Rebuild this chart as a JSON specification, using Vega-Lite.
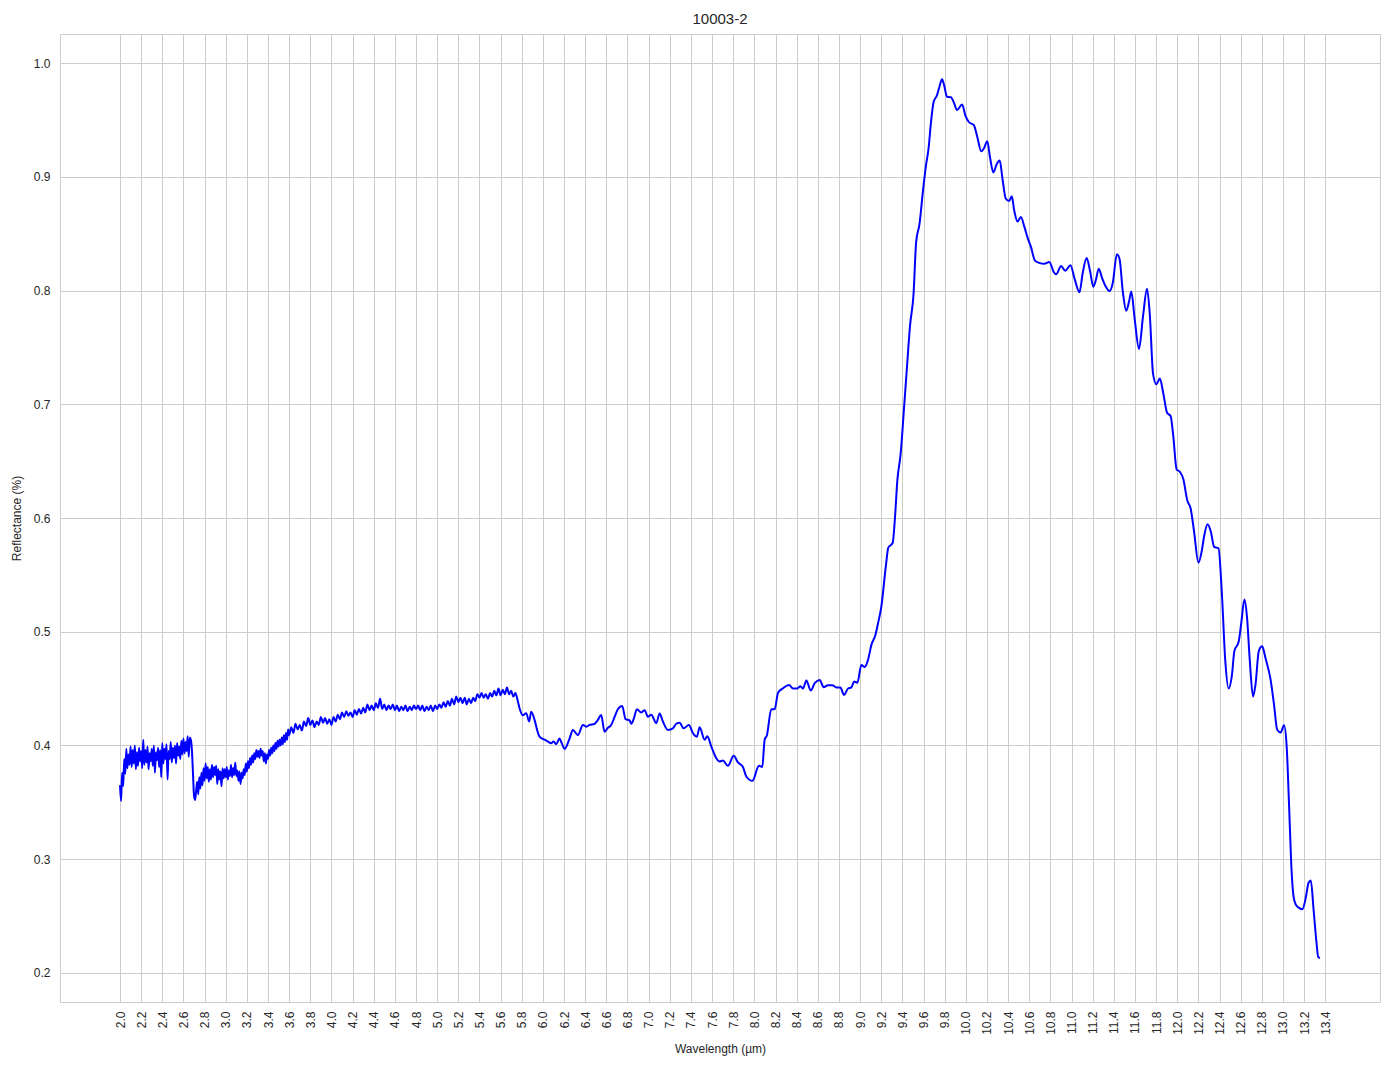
{
"$schema": "https://vega.github.io/schema/vega-lite/v6.json",
"autosize": {"type": "none"},
"padding": {"left": 60, "top": 34, "right": 14, "bottom": 67},
"width": 1320,
"height": 968,
"background": "white",
"title": {"text": "10003-2", "fontSize": 15, "font": "Liberation Sans", "fontWeight": "normal", "color": "#262626", "offset": 7},
"config": {
  "view": {"stroke": "#cccccc", "strokeWidth": 1},
  "axis": {"domain": false, "ticks": false, "gridColor": "#cccccc", "gridWidth": 1, "labelFont": "Liberation Sans", "labelFontSize": 12, "labelColor": "#262626", "titleFont": "Liberation Sans", "titleFontSize": 12, "titleFontWeight": "normal", "titleColor": "#262626"}
},
"data": {"values": [
{"wavelength":2.00,"reflectance":0.365},{"wavelength":2.01,"reflectance":0.351},{"wavelength":2.02,"reflectance":0.376},{"wavelength":2.03,"reflectance":0.364},{"wavelength":2.04,"reflectance":0.388},{"wavelength":2.05,"reflectance":0.375},{"wavelength":2.06,"reflectance":0.397},{"wavelength":2.07,"reflectance":0.380},{"wavelength":2.08,"reflectance":0.392},{"wavelength":2.09,"reflectance":0.383},
{"wavelength":2.10,"reflectance":0.399},{"wavelength":2.11,"reflectance":0.381},{"wavelength":2.12,"reflectance":0.396},{"wavelength":2.13,"reflectance":0.384},{"wavelength":2.14,"reflectance":0.400},{"wavelength":2.15,"reflectance":0.379},{"wavelength":2.16,"reflectance":0.394},{"wavelength":2.17,"reflectance":0.382},{"wavelength":2.18,"reflectance":0.398},{"wavelength":2.19,"reflectance":0.386},
{"wavelength":2.20,"reflectance":0.395},{"wavelength":2.21,"reflectance":0.380},{"wavelength":2.22,"reflectance":0.405},{"wavelength":2.23,"reflectance":0.383},{"wavelength":2.24,"reflectance":0.396},{"wavelength":2.25,"reflectance":0.385},{"wavelength":2.26,"reflectance":0.399},{"wavelength":2.27,"reflectance":0.379},{"wavelength":2.28,"reflectance":0.393},{"wavelength":2.29,"reflectance":0.386},
{"wavelength":2.30,"reflectance":0.397},{"wavelength":2.31,"reflectance":0.382},{"wavelength":2.32,"reflectance":0.400},{"wavelength":2.33,"reflectance":0.376},{"wavelength":2.34,"reflectance":0.394},{"wavelength":2.35,"reflectance":0.387},{"wavelength":2.36,"reflectance":0.398},{"wavelength":2.37,"reflectance":0.381},{"wavelength":2.38,"reflectance":0.396},{"wavelength":2.39,"reflectance":0.372},
{"wavelength":2.40,"reflectance":0.402},{"wavelength":2.41,"reflectance":0.384},{"wavelength":2.42,"reflectance":0.397},{"wavelength":2.43,"reflectance":0.388},{"wavelength":2.44,"reflectance":0.401},{"wavelength":2.45,"reflectance":0.370},{"wavelength":2.46,"reflectance":0.395},{"wavelength":2.47,"reflectance":0.388},{"wavelength":2.48,"reflectance":0.403},{"wavelength":2.49,"reflectance":0.385},
{"wavelength":2.50,"reflectance":0.398},{"wavelength":2.51,"reflectance":0.389},{"wavelength":2.52,"reflectance":0.400},{"wavelength":2.53,"reflectance":0.384},{"wavelength":2.54,"reflectance":0.402},{"wavelength":2.55,"reflectance":0.391},{"wavelength":2.56,"reflectance":0.399},{"wavelength":2.57,"reflectance":0.388},{"wavelength":2.58,"reflectance":0.404},{"wavelength":2.59,"reflectance":0.392},
{"wavelength":2.60,"reflectance":0.406},{"wavelength":2.61,"reflectance":0.393},{"wavelength":2.62,"reflectance":0.403},{"wavelength":2.63,"reflectance":0.395},{"wavelength":2.64,"reflectance":0.408},{"wavelength":2.65,"reflectance":0.390},{"wavelength":2.66,"reflectance":0.407},{"wavelength":2.67,"reflectance":0.405},{"wavelength":2.68,"reflectance":0.396},{"wavelength":2.69,"reflectance":0.376},
{"wavelength":2.70,"reflectance":0.356},{"wavelength":2.71,"reflectance":0.352},{"wavelength":2.72,"reflectance":0.360},{"wavelength":2.73,"reflectance":0.368},{"wavelength":2.74,"reflectance":0.357},{"wavelength":2.75,"reflectance":0.372},{"wavelength":2.76,"reflectance":0.362},{"wavelength":2.77,"reflectance":0.376},{"wavelength":2.78,"reflectance":0.365},{"wavelength":2.79,"reflectance":0.380},
{"wavelength":2.80,"reflectance":0.369},{"wavelength":2.81,"reflectance":0.384},{"wavelength":2.82,"reflectance":0.371},{"wavelength":2.83,"reflectance":0.381},{"wavelength":2.84,"reflectance":0.368},{"wavelength":2.85,"reflectance":0.379},{"wavelength":2.86,"reflectance":0.370},{"wavelength":2.87,"reflectance":0.383},{"wavelength":2.88,"reflectance":0.372},{"wavelength":2.89,"reflectance":0.381},
{"wavelength":2.90,"reflectance":0.374},{"wavelength":2.91,"reflectance":0.382},{"wavelength":2.92,"reflectance":0.366},{"wavelength":2.93,"reflectance":0.379},{"wavelength":2.94,"reflectance":0.370},{"wavelength":2.95,"reflectance":0.377},{"wavelength":2.96,"reflectance":0.364},{"wavelength":2.97,"reflectance":0.380},{"wavelength":2.98,"reflectance":0.371},{"wavelength":2.99,"reflectance":0.379},
{"wavelength":3.00,"reflectance":0.372},{"wavelength":3.01,"reflectance":0.381},{"wavelength":3.02,"reflectance":0.370},{"wavelength":3.03,"reflectance":0.378},{"wavelength":3.04,"reflectance":0.373},{"wavelength":3.05,"reflectance":0.383},{"wavelength":3.06,"reflectance":0.372},{"wavelength":3.07,"reflectance":0.380},{"wavelength":3.08,"reflectance":0.374},{"wavelength":3.09,"reflectance":0.385},
{"wavelength":3.10,"reflectance":0.373},{"wavelength":3.11,"reflectance":0.378},{"wavelength":3.12,"reflectance":0.369},{"wavelength":3.13,"reflectance":0.377},{"wavelength":3.14,"reflectance":0.366},{"wavelength":3.15,"reflectance":0.376},{"wavelength":3.16,"reflectance":0.371},{"wavelength":3.17,"reflectance":0.379},{"wavelength":3.18,"reflectance":0.374},{"wavelength":3.19,"reflectance":0.384},
{"wavelength":3.20,"reflectance":0.377},{"wavelength":3.21,"reflectance":0.386},{"wavelength":3.22,"reflectance":0.380},{"wavelength":3.23,"reflectance":0.389},{"wavelength":3.24,"reflectance":0.383},{"wavelength":3.25,"reflectance":0.391},{"wavelength":3.26,"reflectance":0.385},{"wavelength":3.27,"reflectance":0.393},{"wavelength":3.28,"reflectance":0.388},{"wavelength":3.29,"reflectance":0.396},
{"wavelength":3.30,"reflectance":0.390},{"wavelength":3.31,"reflectance":0.395},{"wavelength":3.32,"reflectance":0.389},{"wavelength":3.33,"reflectance":0.397},{"wavelength":3.34,"reflectance":0.391},{"wavelength":3.35,"reflectance":0.395},{"wavelength":3.36,"reflectance":0.386},{"wavelength":3.37,"reflectance":0.393},{"wavelength":3.38,"reflectance":0.384},{"wavelength":3.39,"reflectance":0.392},
{"wavelength":3.40,"reflectance":0.388},{"wavelength":3.41,"reflectance":0.396},{"wavelength":3.42,"reflectance":0.391},{"wavelength":3.43,"reflectance":0.398},{"wavelength":3.44,"reflectance":0.393},{"wavelength":3.45,"reflectance":0.400},{"wavelength":3.46,"reflectance":0.395},{"wavelength":3.47,"reflectance":0.402},{"wavelength":3.48,"reflectance":0.397},{"wavelength":3.49,"reflectance":0.404},
{"wavelength":3.50,"reflectance":0.399},{"wavelength":3.51,"reflectance":0.405},{"wavelength":3.52,"reflectance":0.400},{"wavelength":3.53,"reflectance":0.407},{"wavelength":3.54,"reflectance":0.401},{"wavelength":3.55,"reflectance":0.409},{"wavelength":3.56,"reflectance":0.403},{"wavelength":3.57,"reflectance":0.411},{"wavelength":3.58,"reflectance":0.405},{"wavelength":3.59,"reflectance":0.414},
{"wavelength":3.60,"reflectance":0.409},{"wavelength":3.62,"reflectance":0.416},{"wavelength":3.64,"reflectance":0.411},{"wavelength":3.66,"reflectance":0.419},{"wavelength":3.68,"reflectance":0.414},{"wavelength":3.70,"reflectance":0.418},{"wavelength":3.72,"reflectance":0.413},{"wavelength":3.74,"reflectance":0.421},{"wavelength":3.76,"reflectance":0.417},{"wavelength":3.78,"reflectance":0.424},
{"wavelength":3.80,"reflectance":0.418},{"wavelength":3.82,"reflectance":0.422},{"wavelength":3.84,"reflectance":0.416},{"wavelength":3.86,"reflectance":0.421},{"wavelength":3.88,"reflectance":0.418},{"wavelength":3.90,"reflectance":0.425},{"wavelength":3.92,"reflectance":0.420},{"wavelength":3.94,"reflectance":0.424},{"wavelength":3.96,"reflectance":0.419},{"wavelength":3.98,"reflectance":0.423},
{"wavelength":4.00,"reflectance":0.418},{"wavelength":4.02,"reflectance":0.425},{"wavelength":4.04,"reflectance":0.421},{"wavelength":4.06,"reflectance":0.427},{"wavelength":4.08,"reflectance":0.423},{"wavelength":4.10,"reflectance":0.429},{"wavelength":4.12,"reflectance":0.425},{"wavelength":4.14,"reflectance":0.430},{"wavelength":4.16,"reflectance":0.426},{"wavelength":4.18,"reflectance":0.429},
{"wavelength":4.20,"reflectance":0.425},{"wavelength":4.22,"reflectance":0.431},{"wavelength":4.24,"reflectance":0.427},{"wavelength":4.26,"reflectance":0.432},{"wavelength":4.28,"reflectance":0.428},{"wavelength":4.30,"reflectance":0.433},{"wavelength":4.32,"reflectance":0.429},{"wavelength":4.34,"reflectance":0.436},{"wavelength":4.36,"reflectance":0.431},{"wavelength":4.38,"reflectance":0.435},
{"wavelength":4.40,"reflectance":0.431},{"wavelength":4.42,"reflectance":0.437},{"wavelength":4.44,"reflectance":0.433},{"wavelength":4.46,"reflectance":0.441},{"wavelength":4.48,"reflectance":0.432},{"wavelength":4.50,"reflectance":0.436},{"wavelength":4.52,"reflectance":0.431},{"wavelength":4.54,"reflectance":0.435},{"wavelength":4.56,"reflectance":0.432},{"wavelength":4.58,"reflectance":0.436},
{"wavelength":4.60,"reflectance":0.431},{"wavelength":4.62,"reflectance":0.435},{"wavelength":4.64,"reflectance":0.430},{"wavelength":4.66,"reflectance":0.434},{"wavelength":4.68,"reflectance":0.431},{"wavelength":4.70,"reflectance":0.435},{"wavelength":4.72,"reflectance":0.430},{"wavelength":4.74,"reflectance":0.434},{"wavelength":4.76,"reflectance":0.431},{"wavelength":4.78,"reflectance":0.435},
{"wavelength":4.80,"reflectance":0.432},{"wavelength":4.82,"reflectance":0.435},{"wavelength":4.84,"reflectance":0.431},{"wavelength":4.86,"reflectance":0.435},{"wavelength":4.88,"reflectance":0.430},{"wavelength":4.90,"reflectance":0.434},{"wavelength":4.92,"reflectance":0.431},{"wavelength":4.94,"reflectance":0.435},{"wavelength":4.96,"reflectance":0.430},{"wavelength":4.98,"reflectance":0.435},
{"wavelength":5.00,"reflectance":0.432},{"wavelength":5.02,"reflectance":0.436},{"wavelength":5.04,"reflectance":0.433},{"wavelength":5.06,"reflectance":0.438},{"wavelength":5.08,"reflectance":0.434},{"wavelength":5.10,"reflectance":0.439},{"wavelength":5.12,"reflectance":0.435},{"wavelength":5.14,"reflectance":0.441},{"wavelength":5.16,"reflectance":0.436},{"wavelength":5.18,"reflectance":0.443},
{"wavelength":5.20,"reflectance":0.438},{"wavelength":5.22,"reflectance":0.442},{"wavelength":5.24,"reflectance":0.437},{"wavelength":5.26,"reflectance":0.442},{"wavelength":5.28,"reflectance":0.436},{"wavelength":5.30,"reflectance":0.441},{"wavelength":5.32,"reflectance":0.437},{"wavelength":5.34,"reflectance":0.442},{"wavelength":5.36,"reflectance":0.439},{"wavelength":5.38,"reflectance":0.445},
{"wavelength":5.40,"reflectance":0.442},{"wavelength":5.42,"reflectance":0.446},{"wavelength":5.44,"reflectance":0.442},{"wavelength":5.46,"reflectance":0.445},{"wavelength":5.48,"reflectance":0.441},{"wavelength":5.50,"reflectance":0.446},{"wavelength":5.52,"reflectance":0.443},{"wavelength":5.54,"reflectance":0.448},{"wavelength":5.56,"reflectance":0.444},{"wavelength":5.58,"reflectance":0.450},
{"wavelength":5.60,"reflectance":0.444},{"wavelength":5.62,"reflectance":0.449},{"wavelength":5.64,"reflectance":0.445},{"wavelength":5.66,"reflectance":0.451},{"wavelength":5.68,"reflectance":0.445},{"wavelength":5.70,"reflectance":0.448},{"wavelength":5.72,"reflectance":0.443},{"wavelength":5.74,"reflectance":0.446},{"wavelength":5.76,"reflectance":0.440},{"wavelength":5.779,"reflectance":0.4327},
{"wavelength":5.81,"reflectance":0.4265},{"wavelength":5.842,"reflectance":0.4283},{"wavelength":5.87,"reflectance":0.421},{"wavelength":5.889,"reflectance":0.4295},{"wavelength":5.921,"reflectance":0.4224},{"wavelength":5.95,"reflectance":0.412},{"wavelength":5.968,"reflectance":0.4077},{"wavelength":6.015,"reflectance":0.405},{"wavelength":6.045,"reflectance":0.4035},{"wavelength":6.078,"reflectance":0.4019},
{"wavelength":6.10,"reflectance":0.4035},{"wavelength":6.126,"reflectance":0.401},{"wavelength":6.157,"reflectance":0.406},{"wavelength":6.18,"reflectance":0.4015},{"wavelength":6.205,"reflectance":0.3969},{"wavelength":6.252,"reflectance":0.406},{"wavelength":6.283,"reflectance":0.4136},{"wavelength":6.331,"reflectance":0.409},{"wavelength":6.378,"reflectance":0.418},{"wavelength":6.41,"reflectance":0.4165},
{"wavelength":6.441,"reflectance":0.418},{"wavelength":6.488,"reflectance":0.419},{"wavelength":6.52,"reflectance":0.4224},{"wavelength":6.551,"reflectance":0.4268},{"wavelength":6.583,"reflectance":0.4121},{"wavelength":6.615,"reflectance":0.4155},{"wavelength":6.646,"reflectance":0.418},{"wavelength":6.68,"reflectance":0.4255},{"wavelength":6.709,"reflectance":0.4318},{"wavelength":6.75,"reflectance":0.4347},
{"wavelength":6.782,"reflectance":0.423},{"wavelength":6.82,"reflectance":0.422},{"wavelength":6.836,"reflectance":0.419},{"wavelength":6.858,"reflectance":0.423},{"wavelength":6.889,"reflectance":0.4318},{"wavelength":6.93,"reflectance":0.429},{"wavelength":6.962,"reflectance":0.431},{"wavelength":6.993,"reflectance":0.4253},{"wavelength":7.025,"reflectance":0.427},{"wavelength":7.072,"reflectance":0.4195},
{"wavelength":7.104,"reflectance":0.428},{"wavelength":7.135,"reflectance":0.421},{"wavelength":7.183,"reflectance":0.4136},{"wavelength":7.23,"reflectance":0.415},{"wavelength":7.261,"reflectance":0.419},{"wavelength":7.293,"reflectance":0.42},{"wavelength":7.331,"reflectance":0.415},{"wavelength":7.381,"reflectance":0.418},{"wavelength":7.419,"reflectance":0.4107},{"wavelength":7.457,"reflectance":0.4077},
{"wavelength":7.482,"reflectance":0.416},{"wavelength":7.53,"reflectance":0.405},{"wavelength":7.555,"reflectance":0.408},{"wavelength":7.593,"reflectance":0.399},{"wavelength":7.64,"reflectance":0.3887},{"wavelength":7.672,"reflectance":0.3858},{"wavelength":7.703,"reflectance":0.3867},{"wavelength":7.75,"reflectance":0.382},{"wavelength":7.804,"reflectance":0.3908},{"wavelength":7.845,"reflectance":0.385},
{"wavelength":7.892,"reflectance":0.381},{"wavelength":7.924,"reflectance":0.3726},{"wavelength":7.981,"reflectance":0.3688},{"wavelength":8.044,"reflectance":0.382},{"wavelength":8.075,"reflectance":0.381},{"wavelength":8.097,"reflectance":0.4048},{"wavelength":8.119,"reflectance":0.409},{"wavelength":8.16,"reflectance":0.4318},{"wavelength":8.192,"reflectance":0.4318},{"wavelength":8.224,"reflectance":0.4464},
{"wavelength":8.271,"reflectance":0.4503},{"wavelength":8.328,"reflectance":0.4532},{"wavelength":8.366,"reflectance":0.45},{"wavelength":8.406,"reflectance":0.45},{"wavelength":8.435,"reflectance":0.452},{"wavelength":8.46,"reflectance":0.45},{"wavelength":8.492,"reflectance":0.457},{"wavelength":8.533,"reflectance":0.4483},{"wavelength":8.571,"reflectance":0.4547},{"wavelength":8.618,"reflectance":0.4576},
{"wavelength":8.656,"reflectance":0.4512},{"wavelength":8.697,"reflectance":0.453},{"wavelength":8.738,"reflectance":0.453},{"wavelength":8.776,"reflectance":0.451},{"wavelength":8.813,"reflectance":0.451},{"wavelength":8.848,"reflectance":0.4444},{"wavelength":8.886,"reflectance":0.45},{"wavelength":8.918,"reflectance":0.451},{"wavelength":8.943,"reflectance":0.4561},{"wavelength":8.974,"reflectance":0.455},
{"wavelength":9.012,"reflectance":0.4708},{"wavelength":9.044,"reflectance":0.469},{"wavelength":9.075,"reflectance":0.4752},{"wavelength":9.107,"reflectance":0.4884},{"wavelength":9.145,"reflectance":0.4971},{"wavelength":9.17,"reflectance":0.5074},{"wavelength":9.201,"reflectance":0.522},{"wavelength":9.244,"reflectance":0.5579},{"wavelength":9.267,"reflectance":0.574},{"wavelength":9.308,"reflectance":0.578},
{"wavelength":9.33,"reflectance":0.6003},{"wavelength":9.352,"reflectance":0.6326},{"wavelength":9.384,"reflectance":0.6568},{"wavelength":9.416,"reflectance":0.6972},{"wavelength":9.441,"reflectance":0.7295},{"wavelength":9.473,"reflectance":0.7699},{"wavelength":9.505,"reflectance":0.7961},{"wavelength":9.53,"reflectance":0.8425},{"wavelength":9.562,"reflectance":0.8587},{"wavelength":9.594,"reflectance":0.887},
{"wavelength":9.622,"reflectance":0.9092},{"wavelength":9.648,"reflectance":0.9253},{"wavelength":9.67,"reflectance":0.9475},{"wavelength":9.695,"reflectance":0.9657},{"wavelength":9.727,"reflectance":0.9717},{"wavelength":9.752,"reflectance":0.9798},{"wavelength":9.775,"reflectance":0.9859},{"wavelength":9.797,"reflectance":0.9798},{"wavelength":9.822,"reflectance":0.9705},{"wavelength":9.86,"reflectance":0.97},
{"wavelength":9.886,"reflectance":0.9657},{"wavelength":9.917,"reflectance":0.9588},{"wavelength":9.965,"reflectance":0.9637},{"wavelength":9.997,"reflectance":0.9536},{"wavelength":10.029,"reflectance":0.9483},{"wavelength":10.076,"reflectance":0.9455},{"wavelength":10.108,"reflectance":0.9354},{"wavelength":10.146,"reflectance":0.9225},{"wavelength":10.171,"reflectance":0.925},{"wavelength":10.203,"reflectance":0.9314},
{"wavelength":10.229,"reflectance":0.9172},{"wavelength":10.26,"reflectance":0.9039},{"wavelength":10.292,"reflectance":0.9112},{"wavelength":10.321,"reflectance":0.9144},{"wavelength":10.346,"reflectance":0.899},{"wavelength":10.378,"reflectance":0.8809},{"wavelength":10.41,"reflectance":0.8789},{"wavelength":10.435,"reflectance":0.8829},{"wavelength":10.457,"reflectance":0.8708},{"wavelength":10.489,"reflectance":0.8607},
{"wavelength":10.521,"reflectance":0.8648},{"wavelength":10.552,"reflectance":0.8567},{"wavelength":10.584,"reflectance":0.8466},{"wavelength":10.616,"reflectance":0.8385},{"wavelength":10.654,"reflectance":0.8264},{"wavelength":10.695,"reflectance":0.8244},{"wavelength":10.743,"reflectance":0.8236},{"wavelength":10.79,"reflectance":0.8252},{"wavelength":10.832,"reflectance":0.8163},{"wavelength":10.854,"reflectance":0.8143},
{"wavelength":10.902,"reflectance":0.8216},{"wavelength":10.94,"reflectance":0.8175},{"wavelength":10.99,"reflectance":0.8224},{"wavelength":11.029,"reflectance":0.8103},{"wavelength":11.075,"reflectance":0.7985},{"wavelength":11.105,"reflectance":0.8151},{"wavelength":11.143,"reflectance":0.8286},{"wavelength":11.175,"reflectance":0.8172},{"wavelength":11.206,"reflectance":0.8034},{"wavelength":11.232,"reflectance":0.81},
{"wavelength":11.257,"reflectance":0.8193},{"wavelength":11.289,"reflectance":0.8109},{"wavelength":11.321,"reflectance":0.804},{"wavelength":11.359,"reflectance":0.7996},{"wavelength":11.39,"reflectance":0.8067},{"wavelength":11.429,"reflectance":0.832},{"wavelength":11.454,"reflectance":0.8278},{"wavelength":11.486,"reflectance":0.7983},{"wavelength":11.517,"reflectance":0.7823},{"wavelength":11.543,"reflectance":0.79},
{"wavelength":11.565,"reflectance":0.7992},{"wavelength":11.597,"reflectance":0.7752},{"wavelength":11.638,"reflectance":0.7487},{"wavelength":11.676,"reflectance":0.7773},{"wavelength":11.714,"reflectance":0.8017},{"wavelength":11.74,"reflectance":0.7794},{"wavelength":11.771,"reflectance":0.7268},{"wavelength":11.803,"reflectance":0.7176},{"wavelength":11.835,"reflectance":0.7226},{"wavelength":11.867,"reflectance":0.71},
{"wavelength":11.905,"reflectance":0.6923},{"wavelength":11.937,"reflectance":0.6898},{"wavelength":11.962,"reflectance":0.6722},{"wavelength":11.994,"reflectance":0.6427},{"wavelength":12.025,"reflectance":0.6406},{"wavelength":12.057,"reflectance":0.6343},{"wavelength":12.095,"reflectance":0.6154},{"wavelength":12.127,"reflectance":0.6082},{"wavelength":12.159,"reflectance":0.5881},{"wavelength":12.2,"reflectance":0.5607},
{"wavelength":12.232,"reflectance":0.5712},{"wavelength":12.254,"reflectance":0.5839},{"wavelength":12.286,"reflectance":0.5944},{"wavelength":12.317,"reflectance":0.5881},{"wavelength":12.349,"reflectance":0.5746},{"wavelength":12.39,"reflectance":0.5733},{"wavelength":12.422,"reflectance":0.5334},{"wavelength":12.454,"reflectance":0.4745},{"wavelength":12.486,"reflectance":0.4501},{"wavelength":12.517,"reflectance":0.4619},
{"wavelength":12.54,"reflectance":0.4829},{"wavelength":12.581,"reflectance":0.4913},{"wavelength":12.606,"reflectance":0.5082},{"wavelength":12.635,"reflectance":0.5283},{"wavelength":12.66,"reflectance":0.5124},{"wavelength":12.686,"reflectance":0.4745},{"wavelength":12.717,"reflectance":0.443},{"wavelength":12.74,"reflectance":0.4535},{"wavelength":12.771,"reflectance":0.4829},{"wavelength":12.803,"reflectance":0.4871},
{"wavelength":12.835,"reflectance":0.4766},{"wavelength":12.883,"reflectance":0.4577},{"wavelength":12.914,"reflectance":0.4367},{"wavelength":12.946,"reflectance":0.4135},{"wavelength":12.978,"reflectance":0.4114},{"wavelength":13.01,"reflectance":0.4177},{"wavelength":13.035,"reflectance":0.3988},{"wavelength":13.057,"reflectance":0.3484},{"wavelength":13.079,"reflectance":0.2937},{"wavelength":13.105,"reflectance":0.2643},
{"wavelength":13.137,"reflectance":0.258},{"wavelength":13.184,"reflectance":0.2559},{"wavelength":13.216,"reflectance":0.2664},{"wavelength":13.241,"reflectance":0.279},{"wavelength":13.263,"reflectance":0.2811},{"wavelength":13.289,"reflectance":0.2559},{"wavelength":13.317,"reflectance":0.2264},{"wavelength":13.333,"reflectance":0.2138},{"wavelength":13.35,"reflectance":0.213}
]},
"mark": {"type": "line", "color": "#0000ff", "strokeWidth": 2, "interpolate": "monotone", "clip": true},
"encoding": {
  "x": {"field": "wavelength", "type": "quantitative", "title": "Wavelength (µm)",
        "scale": {"domain": [1.4325, 13.9175], "nice": false, "zero": false},
        "axis": {"values": [2.0,2.2,2.4,2.6,2.8,3.0,3.2,3.4,3.6,3.8,4.0,4.2,4.4,4.6,4.8,5.0,5.2,5.4,5.6,5.8,6.0,6.2,6.4,6.6,6.8,7.0,7.2,7.4,7.6,7.8,8.0,8.2,8.4,8.6,8.8,9.0,9.2,9.4,9.6,9.8,10.0,10.2,10.4,10.6,10.8,11.0,11.2,11.4,11.6,11.8,12.0,12.2,12.4,12.6,12.8,13.0,13.2,13.4],
                 "format": ".1f", "labelAngle": -90, "labelAlign": "right", "labelBaseline": "middle", "labelPadding": 9, "labelOverlap": false, "titlePadding": 9}},
  "y": {"field": "reflectance", "type": "quantitative", "title": "Reflectance (%)",
        "scale": {"domain": [0.1743, 1.0257], "nice": false, "zero": false},
        "axis": {"values": [0.2,0.3,0.4,0.5,0.6,0.7,0.8,0.9,1.0], "format": ".1f", "labelPadding": 10, "titlePadding": 10}}
}
}
